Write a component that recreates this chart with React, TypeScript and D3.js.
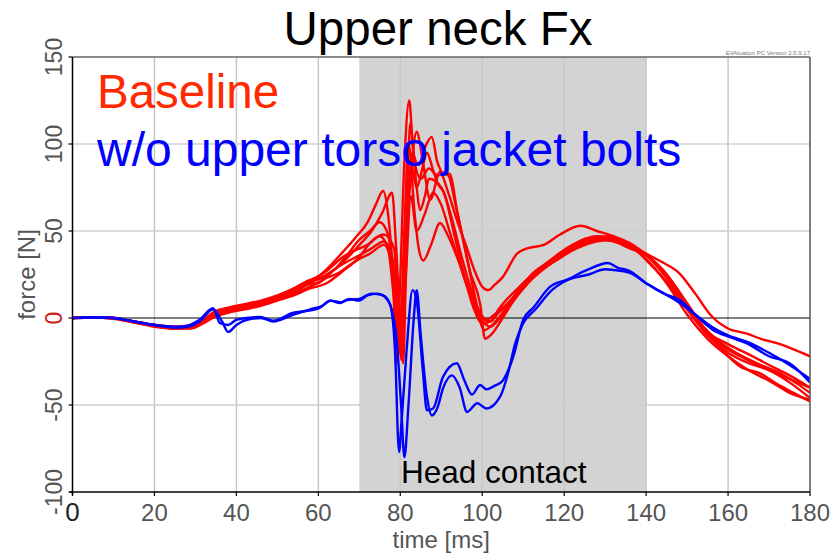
import React from 'react'
import * as d3 from 'd3'

const width = 834
const height = 553
const margin = { left: 72.5, right: 24, top: 57, bottom: 61 }

const xTicks = [0, 20, 40, 60, 80, 100, 120, 140, 160, 180]
const yTicks = [-100, -50, 0, 50, 100, 150]
const contactWindow = [70, 140]

// Baseline runs, [time ms, force N]
const baseline1 = [[0,0],[5,0.5],[10,0],[15,-2],[20,-4],[25,-5],[29,-4.5],[32,-1],[35,4],[38,6],[42,8],[46,10],[50,13],[54,17],[57,21],[60,24],[62,28],[66,38],[69,46],[72,55],[74,65],[75.8,73],[77,60],[78.3,20],[79,-26],[79.8,10],[81,90],[82.2,125],[83.2,95],[84.5,88],[86,98],[87.7,104],[89,90],[90,84],[92,70],[94,55],[96,42],[98,28],[100,18],[101.5,16],[103,19],[105,23.5],[108.5,37],[111,40],[115,42],[119,48],[124,53],[128,50],[132,47],[136,43],[140,37],[144,32],[148,26],[152,14],[156,1],[160,-6],[164.6,-9],[168,-12],[172.7,-15],[176,-18],[180,-22]]
const baseline2 = [[0,0],[5,0.3],[10,-0.5],[15,-2.5],[20,-4.5],[25,-6],[29,-5.5],[32,-2],[35,2],[38,4],[42,6],[46,8],[50,11],[54,14],[57,19],[60,20],[63,26],[66,32],[70,42],[73,50],[75.5,60],[78,72],[79,40],[80.7,-26],[81.5,40],[82.4,112],[83.5,90],[85,80],[87,86],[89,82],[92,83],[94,60],[97,27],[99.5,8],[100.7,-12],[102,-10],[105,0],[109,15],[115,30],[120,38],[124,44],[127,46],[131,47],[134,44],[137,40],[141,31],[146,18],[150,5],[155,-10],[160,-20],[165,-26],[170,-30],[175,-37],[180,-46]]
const baseline3 = [[0,0],[5,0.5],[10,0],[15,-2],[20,-4],[25,-5.5],[29,-5],[32,-2],[35,3],[38,5],[42,7],[46,9],[50,12],[54,15],[58,21],[61,23],[64,28],[67,36],[70,45],[72.6,50],[75,55],[77,48],[78.5,20],[79.5,-10],[81,30],[82.5,80],[84,107],[85.5,90],[87.3,68],[89.7,84],[91.7,82],[93.5,65],[96,38],[98,15],[100.5,-7],[102,-5],[104,0],[107,10],[110,20],[114,28],[118,35],[124,42],[129,45],[134,43],[139,38],[145,25],[150,8],[155,-8],[160,-15],[166,-22],[170,-27],[175,-33],[180,-40]]
const baseline4 = [[0,0],[5,0.3],[10,0],[15,-2.5],[20,-5],[25,-6],[29,-6],[32,-3],[35,1],[38,3],[42,5],[46,7],[50,10],[54,13],[58,17],[62,20],[66,27],[70,35],[72.6,43],[76,48],[78.5,40],[79.3,10],[80,-20],[81,20],[83,95],[84,75],[84.8,62],[86,70],[87,80],[90,75],[92.5,58],[95,35],[97.5,15],[99.5,3],[101,-1],[103,2],[106,8],[109,16],[112,25],[116,32],[120,38],[126,46],[132,44],[136,40],[140,36],[146,20],[151,3],[157,-12],[162,-20],[168,-27],[173,-32],[177,-38],[180,-43]]
const baseline5 = [[0,0],[5,0.5],[10,0],[15,-2],[20,-4],[25,-5],[29,-4],[32,-1],[35,4],[38,5],[42,6],[46,8],[50,11],[54,14],[58,18],[62,23],[65,26],[68,31],[70,34],[72.6,37],[76,42],[78,30],[79,-5],[79.8,-20],[81,30],[82.5,85],[83.5,60],[84.5,40],[85.6,33],[87.5,42],[89.7,54.6],[91.5,48],[93,40],[95,28],[97,15],[99,2],[100.5,-3],[102,-5],[104,-1],[106,5],[112,22],[119,35],[125,44],[130,46],[136,42],[141,34],[146,20],[152,0],[158,-17],[163,-28],[168,-32],[172,-38],[176,-43],[180,-48]]
const baseline6 = [[0,0],[5,0.5],[10,-0.3],[15,-2.5],[20,-4.5],[25,-6],[29,-5],[32,-2.5],[35,2],[38,4],[42,6],[46,9],[50,12],[54,16],[58,21],[62,27],[66,35],[70,40],[72,42],[75,47],[77,40],[78.5,10],[79.8,-18],[81,50],[82,100],[83,85],[84,75],[85.3,85],[86.5,95],[88,85],[89,78],[91,70],[92,60],[95,30],[98,5],[100,-3],[102,-2],[104,5],[110,20],[117,34],[122,42],[128,47],[133,45],[139,38],[144,28],[149,12],[154,-5],[158,-15],[163,-22],[168,-28],[173,-33],[177,-37],[180,-40]]
const baseline7 = [[0,0],[5,0.3],[10,0],[15,-2],[20,-4],[25,-5.5],[29,-5],[32,-2],[35,3],[38,5],[42,7],[46,9],[50,12],[54,15],[58,20],[62,25],[66,31],[70,36],[73,40],[76,44],[78,35],[79.5,0],[80.3,-24],[81.3,20],[82.6,70],[84,50],[86,60],[88,72],[90,65],[92,50],[94,35],[96,20],[98,8],[100,0],[102,-2],[104,3],[108,12],[113,25],[118,33],[123,40],[128,44],[132,45],[136,41],[140,34],[145,20],[150,2],[155,-12],[160,-22],[165,-30],[170,-36],[175,-43],[180,-47]]

// w/o upper torso jacket bolts runs
const noBolts1 = [[0,0],[5,0.5],[10,0],[15,-2],[20,-4],[25,-5],[28,-4.5],[31,-1],[34.3,5.7],[36,-3],[38,-4],[40,-1],[42.6,0],[45.8,0.6],[49,-1.5],[53.9,3],[57,4],[60.4,6],[62.9,10],[65.3,8.6],[67,10.3],[70,11],[73,14],[75.8,13],[77.5,8],[78.7,-18],[79.7,-77],[80.3,-60],[81.5,-20],[83,16],[84,10],[85.5,-30],[86.5,-53],[88,-52],[90.4,-34],[93.8,-26],[95.5,-35],[97.5,-44],[99.5,-38.5],[101,-41],[103,-39],[105,-36],[107.6,-22],[110,-1],[112.5,6],[116.6,18],[120.7,22],[125.6,27.6],[130.7,31.6],[133,29],[136,27],[140,20],[144.4,14],[148.4,10],[152.4,1],[156.4,-7],[160.5,-11],[164.6,-14.6],[170,-22],[175,-26],[180,-37]]
const noBolts2 = [[0,0],[5,0.3],[10,0],[15,-2],[20,-4],[25,-5.5],[28,-5],[31,-2],[34.3,5],[36.5,-2],[38,-8],[40,-4],[42.6,-1],[46,0],[49,-2],[54,2],[58,5],[61,7],[63,10],[65.5,9],[67.5,11],[70,10],[72,13],[74.5,14],[77,10],[79,-10],[80.2,-50],[81,-80],[82,-50],[83.3,0],[84,16],[85,-10],[86.5,-45],[87.7,-56],[89,-52],[90.5,-40],[92.6,-33],[94.5,-40],[96.3,-54],[98.8,-49],[101,-52],[104.4,-45],[106.5,-30],[108,-15],[110,-3],[113,5],[117,16],[121,22],[126,25],[130,28],[132,27.6],[136,26],[140,20],[144,14.6],[148,9],[152,2],[156,-5],[160,-10],[165,-14],[170,-20],[175,-27],[180,-35]]

const baselineRuns = [baseline1, baseline2, baseline3, baseline4, baseline5, baseline6, baseline7]
const noBoltRuns = [noBolts1, noBolts2]

const font = '"Liberation Sans", Arial, sans-serif'

export default function App() {
  const x = d3.scaleLinear().domain([0, 180]).range([margin.left, width - margin.right])
  const y = d3.scaleLinear().domain([-100, 150]).range([height - margin.bottom, margin.top])
  const line = d3.line<number[]>()
    .x(d => x(d[0]))
    .y(d => y(d[1]))
    .curve(d3.curveMonotoneX)

  const x0 = x(0), x1 = x(180), yTop = y(150), yBot = y(-100)

  return (
    <svg width={width} height={height} style={{ position: 'absolute', left: 0, top: 0, fontFamily: font }}>
      <defs>
        <clipPath id="plot">
          <rect x={x0} y={yTop} width={x1 - x0} height={yBot - yTop} />
        </clipPath>
      </defs>
      <rect x={x(contactWindow[0])} y={yTop} width={x(contactWindow[1]) - x(contactWindow[0])} height={yBot - yTop} fill="#d3d3d3" />
      {xTicks.filter(t => t > 0 && t < 180).map(t => (
        <line key={t} x1={x(t)} x2={x(t)} y1={yTop} y2={yBot} stroke="#c8c8c8" strokeWidth={1.5} />
      ))}
      {yTicks.filter(t => t !== 0 && t > -100 && t < 150).map(t => (
        <line key={t} x1={x0} x2={x1} y1={y(t)} y2={y(t)} stroke="#cfcfcf" strokeWidth={1.5} />
      ))}
      <line x1={x0} x2={x1} y1={y(0)} y2={y(0)} stroke="#000" strokeWidth={1} />
      <g clipPath="url(#plot)" fill="none" strokeWidth={2.4} strokeLinejoin="round">
        {baselineRuns.map((r, i) => <path key={'b' + i} d={line(r) || ''} stroke="#ff0000" />)}
        {noBoltRuns.map((r, i) => <path key={'n' + i} d={line(r) || ''} stroke="#0000ff" />)}
      </g>
      <line x1={x0} x2={x1} y1={yTop} y2={yTop} stroke="#666" strokeWidth={1.5} />
      <line x1={x1} x2={x1} y1={yTop} y2={yBot} stroke="#555" strokeWidth={1.5} />
      <line x1={x0} x2={x0} y1={yTop} y2={yBot + 3} stroke="#000" strokeWidth={1.5} />
      <line x1={x0 - 3} x2={x1} y1={yBot} y2={yBot} stroke="#000" strokeWidth={1.5} />
      {xTicks.map(t => (
        <g key={t}>
          <line x1={x(t)} x2={x(t)} y1={yBot} y2={yBot + 4} stroke="#000" strokeWidth={1.2} />
          <text x={x(t)} y={521} textAnchor="middle" fontSize={t === 0 ? 26 : 24} fill={t === 0 ? '#222' : '#555'}>{t}</text>
        </g>
      ))}
      {yTicks.map(t => (
        <g key={t}>
          <line x1={x0 - 4} x2={x0} y1={y(t)} y2={y(t)} stroke="#000" strokeWidth={1.2} />
          <text transform={`translate(62,${y(t)}) rotate(-90)`} textAnchor="middle" fontSize={23} fill={t === 0 ? '#cc2020' : '#555'}>{t}</text>
        </g>
      ))}
      <text transform={`translate(35,${(yTop + yBot) / 2}) rotate(-90)`} textAnchor="middle" fontSize={24} fill="#555">force [N]</text>
      <text x={(x0 + x1) / 2} y={548} textAnchor="middle" fontSize={24} fill="#555">time [ms]</text>
      <text x={438} y={45} textAnchor="middle" fontSize={47.5} fill="#000">Upper neck Fx</text>
      <text x={x1} y={55} textAnchor="end" fontSize={6} fill="#777">EVAluation PC Version 2.5.9.17</text>
      <text x={97} y={108} fontSize={47.5} fill="#ff2a00">Baseline</text>
      <text x={97} y={166} fontSize={48} fill="#0000ff">w/o upper torso jacket bolts</text>
      <text x={401} y={483} fontSize={31.5} fill="#000">Head contact</text>
    </svg>
  )
}
